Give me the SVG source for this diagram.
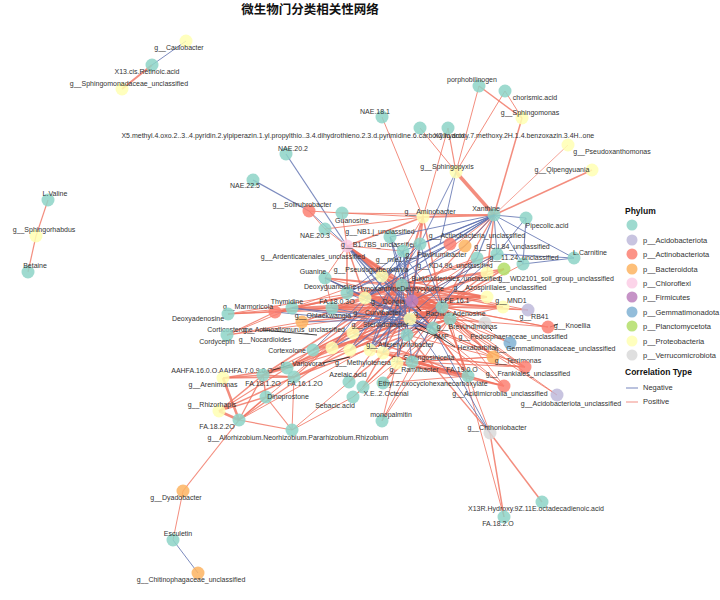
<svg xmlns="http://www.w3.org/2000/svg" width="720" height="600" viewBox="0 0 720 600">
<style>
.p{stroke:#F0705E;stroke-opacity:0.8;fill:none}
.n{stroke:#5B6EAE;stroke-opacity:0.8;fill:none}
.k{stroke:#111;stroke-width:0.8}
.T{fill:#8DD3C7}.Y{fill:#FFFFB3}.R{fill:#FB8072}.O{fill:#FDB462}.Pk{fill:#FCCDE5}.Pu{fill:#BC80BD}.B{fill:#80B1D3}.G{fill:#B3DE69}.L{fill:#BEBADA}.Gr{fill:#D9D9D9}
circle{fill-opacity:0.85}
text{font-family:"Liberation Sans",Arial,sans-serif;font-size:7px;fill:#333;text-anchor:middle}
.lg{text-anchor:start;font-size:7.5px}
.lh{text-anchor:start;font-size:8.5px;font-weight:bold;fill:#111}
.title{font-family:"Noto Sans CJK SC","Liberation Sans",sans-serif;font-size:12.5px;font-weight:bold;fill:#111}
</style>
<rect width="720" height="600" fill="#fff"/>
<text class="title" x="310" y="14">微生物门分类相关性网络</text>
<g id="connectors">
<line class="n" stroke-width="1" x1="186" y1="41" x2="152" y2="65"/>
<line class="p" stroke-width="2" x1="152" y1="65" x2="122" y2="89"/>
<line class="p" stroke-width="1.2" x1="48" y1="200" x2="36" y2="236"/>
<line class="p" stroke-width="1.2" x1="36" y1="236" x2="28" y2="272"/>
<line class="p" stroke-width="1.2" x1="183" y1="491" x2="239" y2="420"/>
<line class="p" stroke-width="1" x1="183" y1="491" x2="173" y2="540"/>
<line class="n" stroke-width="1" x1="173" y1="540" x2="198" y2="573"/>
<line class="p" stroke-width="1.5" x1="479" y1="86" x2="522" y2="118"/>
<line class="p" stroke-width="1" x1="479" y1="86" x2="456" y2="172"/>
<line class="p" stroke-width="1" x1="505" y1="91" x2="522" y2="118"/>
<line class="p" stroke-width="1" x1="505" y1="91" x2="456" y2="172"/>
<line class="p" stroke-width="1.5" x1="522" y1="118" x2="494" y2="215"/>
<line class="p" stroke-width="1" x1="420" y1="128" x2="456" y2="172"/>
<line class="p" stroke-width="1.2" x1="448" y1="128" x2="456" y2="172"/>
<line class="p" stroke-width="1" x1="448" y1="128" x2="423" y2="217"/>
<line class="p" stroke-width="1" x1="382" y1="117" x2="423" y2="217"/>
<line class="p" stroke-width="3.5" x1="456" y1="172" x2="494" y2="215"/>
<line class="p" stroke-width="0.8" x1="568" y1="145" x2="494" y2="215"/>
<line class="p" stroke-width="1.5" x1="592" y1="170" x2="494" y2="215"/>
<line class="n" stroke-width="1.2" x1="286" y1="154" x2="347" y2="246"/>
<line class="n" stroke-width="1.2" x1="253" y1="180" x2="309" y2="211"/>
<line class="n" stroke-width="1" x1="309" y1="211" x2="347" y2="246"/>
<line class="p" stroke-width="1" x1="309" y1="211" x2="342" y2="213"/>
<line class="p" stroke-width="1" x1="309" y1="211" x2="325" y2="229"/>
<line class="p" stroke-width="1" x1="342" y1="213" x2="494" y2="215"/>
<line class="p" stroke-width="1" x1="342" y1="213" x2="347" y2="246"/>
<line class="p" stroke-width="1" x1="325" y1="229" x2="347" y2="246"/>
<line class="p" stroke-width="3" x1="347" y1="246" x2="402" y2="285"/>
<line class="p" stroke-width="2.5" x1="347" y1="246" x2="412" y2="301"/>
<line class="p" stroke-width="2" x1="347" y1="246" x2="382" y2="276"/>
<line class="p" stroke-width="1.5" x1="347" y1="246" x2="365" y2="298"/>
<line class="p" stroke-width="1" x1="347" y1="246" x2="403" y2="251"/>
<line class="p" stroke-width="1" x1="347" y1="246" x2="325" y2="278"/>
<line class="p" stroke-width="1.5" x1="347" y1="246" x2="347" y2="293"/>
<line class="p" stroke-width="2" x1="347" y1="246" x2="442" y2="307"/>
<line class="p" stroke-width="1.5" x1="347" y1="246" x2="450" y2="319"/>
<line class="p" stroke-width="2" x1="423" y1="217" x2="402" y2="285"/>
<line class="p" stroke-width="2" x1="423" y1="217" x2="412" y2="301"/>
<line class="p" stroke-width="1.5" x1="423" y1="217" x2="442" y2="307"/>
<line class="p" stroke-width="1" x1="423" y1="217" x2="403" y2="251"/>
<line class="p" stroke-width="1" x1="423" y1="217" x2="342" y2="213"/>
<line class="p" stroke-width="1" x1="423" y1="217" x2="325" y2="229"/>
<line class="p" stroke-width="2" x1="423" y1="217" x2="494" y2="215"/>
<line class="p" stroke-width="1.5" x1="423" y1="217" x2="347" y2="246"/>
<line class="p" stroke-width="1.2" x1="494" y1="215" x2="442" y2="307"/>
<line class="p" stroke-width="1.5" x1="494" y1="215" x2="487" y2="273"/>
<line class="p" stroke-width="1" x1="494" y1="215" x2="402" y2="285"/>
<line class="p" stroke-width="1.2" x1="494" y1="215" x2="412" y2="301"/>
<line class="p" stroke-width="1.5" x1="325" y1="278" x2="402" y2="285"/>
<line class="p" stroke-width="1" x1="325" y1="278" x2="442" y2="307"/>
<line class="p" stroke-width="1" x1="325" y1="278" x2="365" y2="298"/>
<line class="p" stroke-width="1" x1="325" y1="278" x2="332" y2="308"/>
<line class="p" stroke-width="1" x1="325" y1="278" x2="487" y2="297"/>
<line class="p" stroke-width="2" x1="347" y1="293" x2="412" y2="301"/>
<line class="p" stroke-width="1.5" x1="347" y1="293" x2="442" y2="307"/>
<line class="p" stroke-width="1.5" x1="347" y1="293" x2="450" y2="319"/>
<line class="p" stroke-width="1.5" x1="347" y1="293" x2="487" y2="297"/>
<line class="p" stroke-width="2" x1="365" y1="298" x2="442" y2="307"/>
<line class="p" stroke-width="1.5" x1="365" y1="298" x2="450" y2="319"/>
<line class="p" stroke-width="1.5" x1="365" y1="298" x2="487" y2="297"/>
<line class="p" stroke-width="1" x1="365" y1="298" x2="503" y2="307"/>
<line class="p" stroke-width="2" x1="382" y1="276" x2="442" y2="307"/>
<line class="p" stroke-width="1.5" x1="382" y1="276" x2="450" y2="319"/>
<line class="p" stroke-width="1.5" x1="382" y1="276" x2="410" y2="319"/>
<line class="p" stroke-width="1.5" x1="382" y1="276" x2="487" y2="297"/>
<line class="p" stroke-width="2.5" x1="402" y1="285" x2="442" y2="307"/>
<line class="p" stroke-width="2" x1="402" y1="285" x2="450" y2="319"/>
<line class="p" stroke-width="1.5" x1="402" y1="285" x2="433" y2="328"/>
<line class="p" stroke-width="1.5" x1="402" y1="285" x2="487" y2="273"/>
<line class="p" stroke-width="2" x1="402" y1="285" x2="487" y2="297"/>
<line class="p" stroke-width="1.5" x1="402" y1="285" x2="503" y2="307"/>
<line class="p" stroke-width="1.5" x1="402" y1="285" x2="504" y2="269"/>
<line class="p" stroke-width="1" x1="402" y1="285" x2="477" y2="258"/>
<line class="p" stroke-width="1.5" x1="402" y1="285" x2="497" y2="254"/>
<line class="p" stroke-width="2" x1="412" y1="301" x2="442" y2="307"/>
<line class="p" stroke-width="2" x1="412" y1="301" x2="450" y2="319"/>
<line class="p" stroke-width="2" x1="412" y1="301" x2="487" y2="297"/>
<line class="p" stroke-width="1.5" x1="412" y1="301" x2="503" y2="307"/>
<line class="p" stroke-width="1.2" x1="412" y1="301" x2="528" y2="310"/>
<line class="p" stroke-width="1" x1="412" y1="301" x2="548" y2="327"/>
<line class="p" stroke-width="1" x1="412" y1="301" x2="497" y2="254"/>
<line class="p" stroke-width="1" x1="412" y1="301" x2="477" y2="258"/>
<line class="p" stroke-width="1.5" x1="412" y1="301" x2="504" y2="269"/>
<line class="p" stroke-width="1.5" x1="412" y1="301" x2="487" y2="273"/>
<line class="p" stroke-width="1.5" x1="442" y1="307" x2="487" y2="297"/>
<line class="p" stroke-width="1.5" x1="442" y1="307" x2="503" y2="307"/>
<line class="p" stroke-width="1" x1="442" y1="307" x2="528" y2="310"/>
<line class="p" stroke-width="1.2" x1="442" y1="307" x2="548" y2="327"/>
<line class="p" stroke-width="1.5" x1="442" y1="307" x2="504" y2="269"/>
<line class="p" stroke-width="1.5" x1="442" y1="307" x2="487" y2="273"/>
<line class="p" stroke-width="1" x1="442" y1="307" x2="523" y2="264"/>
<line class="p" stroke-width="1.2" x1="450" y1="319" x2="503" y2="307"/>
<line class="p" stroke-width="1" x1="450" y1="319" x2="485" y2="323"/>
<line class="p" stroke-width="1" x1="450" y1="319" x2="510" y2="343"/>
<line class="p" stroke-width="1.2" x1="450" y1="319" x2="493" y2="357"/>
<line class="p" stroke-width="1.2" x1="450" y1="319" x2="525" y2="367"/>
<line class="p" stroke-width="1" x1="450" y1="319" x2="557" y2="395"/>
<line class="p" stroke-width="1" x1="410" y1="319" x2="493" y2="357"/>
<line class="p" stroke-width="1" x1="410" y1="319" x2="525" y2="367"/>
<line class="p" stroke-width="1" x1="410" y1="319" x2="504" y2="386"/>
<line class="p" stroke-width="1" x1="433" y1="328" x2="504" y2="386"/>
<line class="p" stroke-width="1" x1="433" y1="328" x2="525" y2="367"/>
<line class="p" stroke-width="1" x1="407" y1="335" x2="493" y2="357"/>
<line class="p" stroke-width="2" x1="292" y1="308" x2="402" y2="285"/>
<line class="p" stroke-width="1.5" x1="292" y1="308" x2="412" y2="301"/>
<line class="p" stroke-width="1.5" x1="292" y1="308" x2="442" y2="307"/>
<line class="p" stroke-width="1" x1="292" y1="308" x2="382" y2="276"/>
<line class="p" stroke-width="1.5" x1="292" y1="308" x2="450" y2="319"/>
<line class="p" stroke-width="2" x1="332" y1="308" x2="402" y2="285"/>
<line class="p" stroke-width="1.5" x1="332" y1="308" x2="412" y2="301"/>
<line class="p" stroke-width="1.5" x1="332" y1="308" x2="450" y2="319"/>
<line class="p" stroke-width="2" x1="332" y1="308" x2="442" y2="307"/>
<line class="p" stroke-width="1.5" x1="302" y1="322" x2="402" y2="285"/>
<line class="p" stroke-width="1.5" x1="302" y1="322" x2="442" y2="307"/>
<line class="p" stroke-width="1.2" x1="275" y1="312" x2="228" y2="314"/>
<line class="p" stroke-width="1.2" x1="275" y1="312" x2="227" y2="335"/>
<line class="p" stroke-width="1.5" x1="275" y1="312" x2="292" y2="308"/>
<line class="p" stroke-width="1.5" x1="275" y1="312" x2="402" y2="285"/>
<line class="p" stroke-width="1.2" x1="275" y1="312" x2="412" y2="301"/>
<line class="p" stroke-width="1" x1="275" y1="312" x2="442" y2="307"/>
<line class="p" stroke-width="1" x1="228" y1="314" x2="292" y2="308"/>
<line class="p" stroke-width="1" x1="228" y1="314" x2="332" y2="308"/>
<line class="p" stroke-width="1" x1="228" y1="314" x2="402" y2="285"/>
<line class="p" stroke-width="1" x1="227" y1="335" x2="292" y2="308"/>
<line class="p" stroke-width="1" x1="227" y1="335" x2="302" y2="322"/>
<line class="p" stroke-width="1" x1="227" y1="335" x2="442" y2="307"/>
<line class="p" stroke-width="1.5" x1="313" y1="350" x2="442" y2="307"/>
<line class="p" stroke-width="1.5" x1="313" y1="350" x2="412" y2="301"/>
<line class="p" stroke-width="1" x1="313" y1="350" x2="450" y2="319"/>
<line class="p" stroke-width="1.5" x1="332" y1="348" x2="402" y2="285"/>
<line class="p" stroke-width="1.5" x1="332" y1="348" x2="442" y2="307"/>
<line class="p" stroke-width="1" x1="332" y1="348" x2="450" y2="319"/>
<line class="p" stroke-width="1.5" x1="350" y1="350" x2="442" y2="307"/>
<line class="p" stroke-width="1.2" x1="350" y1="350" x2="412" y2="301"/>
<line class="p" stroke-width="1.5" x1="350" y1="350" x2="402" y2="285"/>
<line class="p" stroke-width="1.5" x1="353" y1="333" x2="442" y2="307"/>
<line class="p" stroke-width="1.5" x1="353" y1="333" x2="402" y2="285"/>
<line class="p" stroke-width="1.5" x1="353" y1="333" x2="468" y2="376"/>
<line class="p" stroke-width="2" x1="370" y1="350" x2="468" y2="376"/>
<line class="p" stroke-width="2" x1="383" y1="353" x2="468" y2="376"/>
<line class="p" stroke-width="2.5" x1="397" y1="363" x2="468" y2="376"/>
<line class="p" stroke-width="2" x1="412" y1="362" x2="468" y2="376"/>
<line class="p" stroke-width="1.5" x1="383" y1="353" x2="504" y2="386"/>
<line class="p" stroke-width="1.5" x1="397" y1="363" x2="504" y2="386"/>
<line class="p" stroke-width="1" x1="370" y1="350" x2="504" y2="386"/>
<line class="p" stroke-width="1.2" x1="412" y1="362" x2="525" y2="367"/>
<line class="p" stroke-width="1" x1="412" y1="362" x2="493" y2="357"/>
<line class="p" stroke-width="1" x1="383" y1="353" x2="525" y2="367"/>
<line class="p" stroke-width="1" x1="370" y1="350" x2="525" y2="367"/>
<line class="p" stroke-width="1" x1="397" y1="363" x2="493" y2="357"/>
<line class="p" stroke-width="1.5" x1="287" y1="368" x2="402" y2="285"/>
<line class="p" stroke-width="1.5" x1="287" y1="368" x2="412" y2="301"/>
<line class="p" stroke-width="1.5" x1="287" y1="368" x2="442" y2="307"/>
<line class="p" stroke-width="1.2" x1="287" y1="368" x2="450" y2="319"/>
<line class="p" stroke-width="1.5" x1="263" y1="375" x2="402" y2="285"/>
<line class="p" stroke-width="1.2" x1="263" y1="375" x2="412" y2="301"/>
<line class="p" stroke-width="1.5" x1="263" y1="375" x2="442" y2="307"/>
<line class="p" stroke-width="1.2" x1="294" y1="377" x2="402" y2="285"/>
<line class="p" stroke-width="1.5" x1="294" y1="377" x2="442" y2="307"/>
<line class="p" stroke-width="1.5" x1="294" y1="377" x2="450" y2="319"/>
<line class="p" stroke-width="1.5" x1="294" y1="377" x2="263" y2="375"/>
<line class="p" stroke-width="1.5" x1="287" y1="368" x2="263" y2="375"/>
<line class="p" stroke-width="2.5" x1="223" y1="378" x2="239" y2="420"/>
<line class="p" stroke-width="1.5" x1="223" y1="378" x2="263" y2="375"/>
<line class="p" stroke-width="1.5" x1="223" y1="378" x2="287" y2="368"/>
<line class="p" stroke-width="1.5" x1="223" y1="378" x2="294" y2="377"/>
<line class="p" stroke-width="2.5" x1="219" y1="411" x2="239" y2="420"/>
<line class="p" stroke-width="1.5" x1="219" y1="411" x2="263" y2="375"/>
<line class="p" stroke-width="1.2" x1="219" y1="411" x2="287" y2="368"/>
<line class="p" stroke-width="1.5" x1="219" y1="411" x2="266" y2="397"/>
<line class="p" stroke-width="1.5" x1="219" y1="411" x2="294" y2="377"/>
<line class="p" stroke-width="1.5" x1="266" y1="397" x2="239" y2="420"/>
<line class="p" stroke-width="1.5" x1="266" y1="397" x2="263" y2="375"/>
<line class="p" stroke-width="1.2" x1="266" y1="397" x2="292" y2="430"/>
<line class="p" stroke-width="1.2" x1="239" y1="420" x2="292" y2="430"/>
<line class="p" stroke-width="1.2" x1="239" y1="420" x2="263" y2="375"/>
<line class="p" stroke-width="1" x1="239" y1="420" x2="402" y2="285"/>
<line class="p" stroke-width="1" x1="239" y1="420" x2="442" y2="307"/>
<line class="p" stroke-width="1.2" x1="239" y1="420" x2="412" y2="301"/>
<line class="p" stroke-width="1" x1="292" y1="430" x2="349" y2="382"/>
<line class="p" stroke-width="1" x1="292" y1="430" x2="353" y2="397"/>
<line class="p" stroke-width="1" x1="292" y1="430" x2="294" y2="377"/>
<line class="p" stroke-width="1.5" x1="349" y1="382" x2="442" y2="307"/>
<line class="p" stroke-width="1.2" x1="349" y1="382" x2="412" y2="301"/>
<line class="p" stroke-width="1" x1="353" y1="397" x2="442" y2="307"/>
<line class="p" stroke-width="1" x1="353" y1="397" x2="450" y2="319"/>
<line class="p" stroke-width="1.5" x1="363" y1="387" x2="442" y2="307"/>
<line class="p" stroke-width="1.5" x1="363" y1="387" x2="412" y2="301"/>
<line class="p" stroke-width="1.2" x1="383" y1="383" x2="442" y2="307"/>
<line class="p" stroke-width="1.5" x1="383" y1="383" x2="450" y2="319"/>
<line class="p" stroke-width="1" x1="383" y1="383" x2="468" y2="376"/>
<line class="p" stroke-width="1" x1="382" y1="421" x2="442" y2="307"/>
<line class="p" stroke-width="1" x1="382" y1="421" x2="450" y2="319"/>
<line class="p" stroke-width="1" x1="382" y1="421" x2="412" y2="301"/>
<line class="p" stroke-width="1.5" x1="468" y1="376" x2="442" y2="307"/>
<line class="p" stroke-width="1.5" x1="468" y1="376" x2="412" y2="301"/>
<line class="p" stroke-width="1" x1="468" y1="376" x2="402" y2="285"/>
<line class="p" stroke-width="1" x1="504" y1="386" x2="442" y2="307"/>
<line class="p" stroke-width="1" x1="525" y1="367" x2="442" y2="307"/>
<line class="p" stroke-width="1.2" x1="493" y1="357" x2="442" y2="307"/>
<line class="p" stroke-width="1" x1="548" y1="327" x2="450" y2="319"/>
<line class="p" stroke-width="1" x1="528" y1="310" x2="402" y2="285"/>
<line class="p" stroke-width="1" x1="485" y1="323" x2="412" y2="301"/>
<line class="p" stroke-width="1" x1="510" y1="343" x2="442" y2="307"/>
<line class="p" stroke-width="1.5" x1="490" y1="433" x2="542" y2="502"/>
<line class="p" stroke-width="1.5" x1="490" y1="433" x2="504" y2="517"/>
<line class="p" stroke-width="1" x1="504" y1="517" x2="450" y2="319"/>
<line class="p" stroke-width="1.2" x1="490" y1="433" x2="407" y2="335"/>
<line class="p" stroke-width="1" x1="490" y1="433" x2="442" y2="307"/>
<line class="p" stroke-width="1" x1="557" y1="395" x2="412" y2="301"/>
<line class="n" stroke-width="1" x1="494" y1="215" x2="526" y2="218"/>
<line class="n" stroke-width="1" x1="494" y1="215" x2="574" y2="258"/>
<line class="n" stroke-width="1" x1="494" y1="215" x2="523" y2="264"/>
<line class="n" stroke-width="1" x1="494" y1="215" x2="497" y2="254"/>
<line class="n" stroke-width="1.2" x1="494" y1="215" x2="477" y2="258"/>
<line class="n" stroke-width="1.2" x1="494" y1="215" x2="450" y2="244"/>
<line class="n" stroke-width="1.2" x1="494" y1="215" x2="420" y2="244"/>
<line class="n" stroke-width="1.2" x1="494" y1="215" x2="403" y2="251"/>
<line class="n" stroke-width="1" x1="494" y1="215" x2="390" y2="237"/>
<line class="n" stroke-width="1" x1="494" y1="215" x2="465" y2="246"/>
<line class="n" stroke-width="1" x1="494" y1="215" x2="365" y2="298"/>
<line class="n" stroke-width="1" x1="494" y1="215" x2="347" y2="293"/>
<line class="n" stroke-width="1" x1="494" y1="215" x2="382" y2="276"/>
<line class="n" stroke-width="1" x1="526" y1="218" x2="523" y2="264"/>
<line class="n" stroke-width="1" x1="526" y1="218" x2="497" y2="254"/>
<line class="n" stroke-width="1" x1="574" y1="258" x2="523" y2="264"/>
<line class="n" stroke-width="1" x1="574" y1="258" x2="497" y2="254"/>
<line class="n" stroke-width="1" x1="456" y1="172" x2="420" y2="244"/>
<line class="n" stroke-width="1" x1="456" y1="172" x2="440" y2="244"/>
<line class="n" stroke-width="1.5" x1="403" y1="251" x2="412" y2="301"/>
<line class="n" stroke-width="1.5" x1="420" y1="244" x2="412" y2="301"/>
<line class="n" stroke-width="1" x1="420" y1="244" x2="442" y2="307"/>
<line class="n" stroke-width="1" x1="420" y1="244" x2="365" y2="298"/>
<line class="n" stroke-width="1.2" x1="390" y1="237" x2="412" y2="301"/>
<line class="n" stroke-width="1" x1="390" y1="237" x2="402" y2="285"/>
<line class="n" stroke-width="1" x1="390" y1="237" x2="442" y2="307"/>
<line class="n" stroke-width="1" x1="403" y1="251" x2="347" y2="293"/>
<line class="n" stroke-width="1" x1="403" y1="251" x2="410" y2="319"/>
<line class="n" stroke-width="1" x1="477" y1="258" x2="442" y2="307"/>
<line class="n" stroke-width="1" x1="497" y1="254" x2="412" y2="301"/>
<line class="n" stroke-width="1" x1="450" y1="244" x2="347" y2="293"/>
<line class="n" stroke-width="1" x1="450" y1="244" x2="365" y2="298"/>
<line class="n" stroke-width="1" x1="465" y1="246" x2="365" y2="298"/>
<line class="n" stroke-width="1.5" x1="347" y1="246" x2="433" y2="328"/>
<line class="n" stroke-width="1.5" x1="347" y1="246" x2="410" y2="319"/>
<line class="n" stroke-width="1" x1="347" y1="246" x2="407" y2="335"/>
<line class="n" stroke-width="1.2" x1="325" y1="278" x2="433" y2="328"/>
<line class="n" stroke-width="1.2" x1="325" y1="278" x2="410" y2="319"/>
<line class="n" stroke-width="1" x1="347" y1="293" x2="433" y2="328"/>
<line class="n" stroke-width="1" x1="382" y1="276" x2="433" y2="328"/>
<line class="n" stroke-width="1" x1="365" y1="298" x2="407" y2="335"/>
<line class="n" stroke-width="1.5" x1="402" y1="285" x2="370" y2="350"/>
<line class="n" stroke-width="1.5" x1="402" y1="285" x2="383" y2="353"/>
<line class="n" stroke-width="1.2" x1="402" y1="285" x2="397" y2="363"/>
<line class="n" stroke-width="1.2" x1="402" y1="285" x2="412" y2="362"/>
<line class="n" stroke-width="1.5" x1="412" y1="301" x2="370" y2="350"/>
<line class="n" stroke-width="1.2" x1="412" y1="301" x2="350" y2="350"/>
<line class="n" stroke-width="1.2" x1="412" y1="301" x2="332" y2="348"/>
<line class="n" stroke-width="1" x1="412" y1="301" x2="397" y2="363"/>
<line class="n" stroke-width="1" x1="442" y1="307" x2="383" y2="353"/>
<line class="n" stroke-width="1" x1="442" y1="307" x2="412" y2="362"/>
<line class="n" stroke-width="1" x1="403" y1="251" x2="370" y2="350"/>
<line class="n" stroke-width="1" x1="420" y1="244" x2="350" y2="350"/>
<line class="n" stroke-width="1" x1="292" y1="308" x2="433" y2="328"/>
<line class="n" stroke-width="1" x1="292" y1="308" x2="410" y2="319"/>
<line class="n" stroke-width="1" x1="332" y1="308" x2="433" y2="328"/>
<line class="n" stroke-width="1" x1="275" y1="312" x2="433" y2="328"/>
<line class="n" stroke-width="1" x1="302" y1="322" x2="410" y2="319"/>
<line class="n" stroke-width="1" x1="313" y1="350" x2="420" y2="244"/>
<line class="n" stroke-width="1" x1="332" y1="348" x2="403" y2="251"/>
<line class="n" stroke-width="1" x1="490" y1="433" x2="433" y2="328"/>
<line class="n" stroke-width="1" x1="490" y1="433" x2="410" y2="319"/>
<line class="n" stroke-width="1" x1="477" y1="258" x2="370" y2="350"/>
<line class="n" stroke-width="1" x1="497" y1="254" x2="383" y2="353"/>
<line class="k" x1="412" y1="301" x2="421" y2="311"/>
<line class="k" x1="412" y1="320" x2="455" y2="347"/>
<line class="k" x1="415" y1="328" x2="436" y2="336"/>
<line class="k" x1="483" y1="322" x2="492" y2="331"/>
<line class="k" x1="550" y1="327" x2="558" y2="324"/>
<line class="k" x1="262" y1="330" x2="317" y2="335"/>
<line class="k" x1="323" y1="363" x2="350" y2="357"/>
<line class="k" x1="273" y1="370" x2="290" y2="365"/>
</g>
<g id="nodes">
<g id="n_caulo"><circle class="Y" cx="186" cy="41" r="6.5"/><text x="179" y="50">g__Caulobacter</text></g>
<g id="n_x13"><circle class="T" cx="152" cy="65" r="6.5"/><text x="147" y="74">X13.cis.Retinoic.acid</text></g>
<g id="n_sphmon"><circle class="Y" cx="122" cy="89" r="6.5"/><text x="129" y="86">g__Sphingomonadaceae_unclassified</text></g>
<g id="n_valine"><circle class="T" cx="48" cy="200" r="6.5"/><text x="55" y="196">L.Valine</text></g>
<g id="n_sphrh"><circle class="Y" cx="36" cy="236" r="6.5"/><text x="44" y="232">g__Sphingorhabdus</text></g>
<g id="n_betaine"><circle class="T" cx="28" cy="272" r="6.5"/><text x="35" y="268">Betaine</text></g>
<g id="n_nae181"><circle class="T" cx="382" cy="117" r="6.5"/><text x="375" y="114">NAE.18.1</text></g>
<g id="n_x5"><circle class="T" cx="420" cy="128" r="6.5"/><text x="293" y="138">X5.methyl.4.oxo.2..3..4.pyridin.2.ylpiperazin.1.yl.propylthio..3.4.dihydrothieno.2.3.d.pyrimidine.6.carboxylic.acid</text></g>
<g id="n_x2"><circle class="T" cx="448" cy="128" r="6.5"/><text x="514" y="138">X2.hydroxy.7.methoxy.2H.1.4.benzoxazin.3.4H..one</text></g>
<g id="n_porph"><circle class="T" cx="479" cy="86" r="6.5"/><text x="472" y="82">porphobilinogen</text></g>
<g id="n_choris"><circle class="T" cx="505" cy="91" r="6.5"/><text x="535" y="100">chorismic.acid</text></g>
<g id="n_sphingomonas"><circle class="Y" cx="522" cy="118" r="6.5"/><text x="530" y="115">g__Sphingomonas</text></g>
<g id="n_pseudox"><circle class="Y" cx="568" cy="145" r="6.5"/><text x="612" y="154">g__Pseudoxanthomonas</text></g>
<g id="n_qipeng"><circle class="Y" cx="592" cy="170" r="6.5"/><text x="562" y="172">g__Qipengyuania</text></g>
<g id="n_spx"><circle class="Y" cx="456" cy="172" r="6.5"/><text x="447" y="169">g__Sphingopyxis</text></g>
<g id="n_nae202"><circle class="T" cx="286" cy="154" r="6.5"/><text x="293" y="151">NAE.20.2</text></g>
<g id="n_nae225"><circle class="T" cx="253" cy="180" r="6.5"/><text x="245" y="188">NAE.22.5</text></g>
<g id="n_xan"><circle class="T" cx="494" cy="215" r="6.5"/><text x="486" y="211">Xanthine</text></g>
<g id="n_pip"><circle class="T" cx="526" cy="218" r="6.5"/><text x="547" y="228">Pipecolic.acid</text></g>
<g id="n_lcarn"><circle class="T" cx="574" cy="258" r="6.5"/><text x="590" y="255">L.Carnitine</text></g>
<g id="n_amino"><circle class="Y" cx="423" cy="217" r="6.5"/><text x="430" y="214">g__Aminobacter</text></g>
<g id="n_soliru"><circle class="R" cx="309" cy="211" r="6.5"/><text x="302" y="207">g__Solirubrobacter</text></g>
<g id="n_guanos"><circle class="T" cx="342" cy="213" r="6.5"/><text x="352" y="223">Guanosine</text></g>
<g id="n_nae203"><circle class="T" cx="325" cy="229" r="6.5"/><text x="315" y="238">NAE.20.3</text></g>
<g id="n_nb1j"><circle class="T" cx="390" cy="237" r="6.5"/><text x="380" y="234">g__NB1.j_unclassified</text></g>
<g id="n_b17"><circle class="Pk" cx="347" cy="246" r="6.5"/><text x="379" y="247">g__B1.7BS_unclassified</text></g>
<g id="n_ardent"><text x="313" y="259">g__Ardenticatenales_unclassified</text></g>
<g id="n_c1"><circle class="T" cx="403" cy="251" r="6.5"/><text x="392" y="262">g__mle1.7</text></g>
<g id="n_c2"><circle class="T" cx="420" cy="244" r="6.5"/></g>
<g id="n_actino"><circle class="R" cx="450" cy="244" r="6.5"/><text x="477" y="238">g__Actinobacteria_unclassified</text></g>
<g id="n_flavi"><circle class="O" cx="465" cy="246" r="6.5"/><text x="436" y="257">g__Flavihumibacter</text></g>
<g id="n_c3"><circle class="T" cx="477" cy="258" r="6.5"/><text x="455" y="268">g__KD4.96_unclassified</text></g>
<g id="n_c4"><circle class="T" cx="497" cy="254" r="6.5"/><text x="512" y="249">g__SC.I.84_unclassified</text></g>
<g id="n_1124"><circle class="T" cx="523" cy="264" r="6.5"/><text x="524" y="260">g__11.24_unclassified</text></g>
<g id="n_wd"><circle class="G" cx="504" cy="269" r="6.5"/><text x="556" y="281">g__WD2101_soil_group_unclassified</text></g>
<g id="n_y1"><circle class="Y" cx="487" cy="273" r="6.5"/><text x="450" y="281">g__Burkholderiales_unclassified</text></g>
<g id="n_y2"><circle class="Y" cx="487" cy="297" r="6.5"/><text x="500" y="290">g__Azospirillales_unclassified</text></g>
<g id="n_mnd1"><circle class="Y" cx="503" cy="307" r="6.5"/><text x="511" y="303">g__MND1</text></g>
<g id="n_rb41"><circle class="L" cx="528" cy="310" r="6.5"/><text x="534" y="319">g__RB41</text></g>
<g id="n_knoe"><circle class="R" cx="548" cy="327" r="6.5"/><text x="572" y="328">g__Knoellia</text></g>
<g id="n_pedos"><circle class="Gr" cx="485" cy="323" r="6.5"/><text x="513" y="339">g__Pedosphaeraceae_unclassified</text></g>
<g id="n_gemm"><circle class="B" cx="510" cy="343" r="6.5"/><text x="555" y="351">g__Gemmatimonadaceae_unclassified</text></g>
<g id="n_terri"><circle class="O" cx="493" cy="357" r="6.5"/><text x="518" y="363">g__Terrimonas</text></g>
<g id="n_frank"><circle class="R" cx="525" cy="367" r="6.5"/><text x="528" y="376">g__Frankiales_unclassified</text></g>
<g id="n_fa190"><circle class="T" cx="468" cy="376" r="6.5"/><text x="462" y="372">FA.19.0.O</text></g>
<g id="n_acidim"><circle class="R" cx="504" cy="386" r="6.5"/><text x="500" y="396">g__Acidimicrobiia_unclassified</text></g>
<g id="n_acidob"><circle class="L" cx="557" cy="395" r="6.5"/><text x="571" y="406">g__Acidobacteriota_unclassified</text></g>
<g id="n_chthon"><circle class="Gr" cx="490" cy="433" r="6.5"/><text x="497" y="430">g__Chthoniobacter</text></g>
<g id="n_x13r"><circle class="T" cx="542" cy="502" r="6.5"/><text x="536" y="511">X13R.Hydroxy.9Z.11E.octadecadienoic.acid</text></g>
<g id="n_fa182o"><circle class="T" cx="504" cy="517" r="6.5"/><text x="498" y="526">FA.18.2.O</text></g>
<g id="n_guanine"><circle class="T" cx="325" cy="278" r="6.5"/><text x="313" y="274">Guanine</text></g>
<g id="n_pseudo"><circle class="Y" cx="382" cy="276" r="6.5"/><text x="371" y="272">g__Pseudogulbenkiania</text></g>
<g id="n_hypox"><circle class="T" cx="402" cy="285" r="6.5"/><text x="379" y="291">Hypoxanthine</text></g>
<g id="n_deoxyg"><circle class="T" cx="347" cy="293" r="6.5"/><text x="330" y="289">Deoxyguanosine</text></g>
<g id="n_deoxyc"><text x="422" y="291">Deoxycytidine</text></g>
<g id="n_dongia"><circle class="Y" cx="365" cy="298" r="6.5"/><text x="388" y="304">g__Dongia</text></g>
<g id="n_firm"><circle class="Pu" cx="412" cy="301" r="6.5"/><text x="432" y="316">g__Bacillus</text></g>
<g id="n_lpe"><circle class="T" cx="442" cy="307" r="6.5"/><text x="455" y="303">LPE.16.1</text></g>
<g id="n_adeno"><circle class="T" cx="450" cy="319" r="6.5"/><text x="469" y="316">Adenosine</text></g>
<g id="n_bacil"><circle class="Y" cx="410" cy="319" r="6.5"/><text x="377" y="315">g__Curvibacter</text></g>
<g id="n_amp"><circle class="T" cx="433" cy="328" r="6.5"/><text x="441" y="339">AMP</text></g>
<g id="n_brev"><text x="467" y="329">g__Brevundimonas</text></g>
<g id="n_hexa"><circle class="T" cx="407" cy="335" r="6.5"/><text x="477" y="350">Hexabarbital</text></g>
<g id="n_y8"><circle class="Y" cx="353" cy="333" r="6.5"/><text x="380" y="327">g__Steroidobacter</text></g>
<g id="n_y3"><circle class="Y" cx="370" cy="350" r="6.5"/><text x="400" y="347">g__Altererythrobacter</text></g>
<g id="n_y4"><circle class="Y" cx="383" cy="353" r="6.5"/><text x="423" y="360">g__Sphingosinicella</text></g>
<g id="n_y5"><circle class="Y" cx="350" cy="350" r="6.5"/><text x="363" y="365">g__Methylotenera</text></g>
<g id="n_t6"><circle class="T" cx="412" cy="362" r="6.5"/></g>
<g id="n_y6"><circle class="Y" cx="397" cy="363" r="6.5"/><text x="414" y="372">g__Ramlibacter</text></g>
<g id="n_marmo"><circle class="R" cx="275" cy="312" r="6.5"/><text x="248" y="309">g__Marmoricola</text></g>
<g id="n_deoxya"><circle class="T" cx="228" cy="314" r="6.5"/><text x="198" y="321">Deoxyadenosine</text></g>
<g id="n_thym"><circle class="T" cx="292" cy="308" r="6.5"/><text x="287" y="304">Thymidine</text></g>
<g id="n_fa1803"><circle class="T" cx="332" cy="308" r="6.5"/><text x="337" y="304">FA.18.0.3O</text></g>
<g id="n_or1"><circle class="O" cx="302" cy="322" r="6.5"/><text x="323" y="318">g__Ohtaekwangia</text></g>
<g id="n_cortic"><text x="230" y="332">Corticosterone</text><text x="294" y="332">g__Actinoallomurus_unclassified</text></g>
<g id="n_cordy"><circle class="T" cx="227" cy="335" r="6.5"/><text x="217" y="344">Cordycepin</text></g>
<g id="n_nocar"><text x="265" y="342">g__Nocardioides</text></g>
<g id="n_cortex"><circle class="T" cx="313" cy="350" r="6.5"/><text x="287" y="353">Cortexolone</text></g>
<g id="n_y7"><circle class="Y" cx="332" cy="348" r="6.5"/><text x="303" y="366">g__Variovorax</text></g>
<g id="n_aahfa"><circle class="T" cx="287" cy="368" r="6.5"/><text x="222" y="373">AAHFA.16.0.O.AAHFA.7.0.9.0.O</text></g>
<g id="n_arenim"><circle class="Y" cx="223" cy="378" r="6.5"/><text x="213" y="387">g__Arenimonas</text></g>
<g id="n_fa1812"><circle class="T" cx="263" cy="375" r="6.5"/><text x="263" y="386">FA.18.1.2O</text></g>
<g id="n_fa1612"><circle class="T" cx="294" cy="377" r="6.5"/><text x="305" y="386">FA.16.1.2O</text></g>
<g id="n_dino"><circle class="T" cx="266" cy="397" r="6.5"/><text x="288" y="399">Dinoprostone</text></g>
<g id="n_rhizo"><circle class="Y" cx="219" cy="411" r="6.5"/><text x="212" y="407">g__Rhizorhapis</text></g>
<g id="n_fa1822"><circle class="T" cx="239" cy="420" r="6.5"/><text x="217" y="429">FA.18.2.2O</text></g>
<g id="n_allorh"><circle class="T" cx="292" cy="430" r="6.5"/><text x="298" y="440">g__Allorhizobium.Neorhizobium.Pararhizobium.Rhizobium</text></g>
<g id="n_azel"><circle class="T" cx="349" cy="382" r="6.5"/><text x="348" y="377">Azelaic.acid</text></g>
<g id="n_sebac"><circle class="T" cx="353" cy="397" r="6.5"/><text x="335" y="408">Sebacic.acid</text></g>
<g id="n_octen"><circle class="T" cx="363" cy="387" r="6.5"/><text x="386" y="396">X.E..2.Octenal</text></g>
<g id="n_ethyl"><circle class="T" cx="383" cy="383" r="6.5"/><text x="433" y="386">Ethyl.2.oxocyclohexanecarboxylate</text></g>
<g id="n_monop"><circle class="T" cx="382" cy="421" r="6.5"/><text x="391" y="417">monopalmitin</text></g>
<g id="n_dyado"><circle class="O" cx="183" cy="491" r="6.5"/><text x="176" y="500">g__Dyadobacter</text></g>
<g id="n_escul"><circle class="T" cx="173" cy="540" r="6.5"/><text x="178" y="536">Esculetin</text></g>
<g id="n_chitino"><circle class="O" cx="198" cy="573" r="6.5"/><text x="191" y="582">g__Chitinophagaceae_unclassified</text></g>
</g>
<g id="legend">
<text class="lh" x="625" y="214">Phylum</text>
<circle class="T" cx="632" cy="225" r="5.5"/>
<circle class="L" cx="632" cy="240" r="5.5"/><text class="lg" x="643" y="243">p__Acidobacteriota</text>
<circle class="R" cx="632" cy="254" r="5.5"/><text class="lg" x="643" y="257">p__Actinobacteriota</text>
<circle class="O" cx="632" cy="269" r="5.5"/><text class="lg" x="643" y="272">p__Bacteroidota</text>
<circle class="Pk" cx="632" cy="283" r="5.5"/><text class="lg" x="643" y="286">p__Chloroflexi</text>
<circle class="Pu" cx="632" cy="297" r="5.5"/><text class="lg" x="643" y="300">p__Firmicutes</text>
<circle class="B" cx="632" cy="312" r="5.5"/><text class="lg" x="643" y="315">p__Gemmatimonadota</text>
<circle class="G" cx="632" cy="326" r="5.5"/><text class="lg" x="643" y="329">p__Planctomycetota</text>
<circle class="Y" cx="632" cy="341" r="5.5"/><text class="lg" x="643" y="344">p__Proteobacteria</text>
<circle class="Gr" cx="632" cy="355" r="5.5"/><text class="lg" x="643" y="358">p__Verrucomicrobiota</text>
<text class="lh" x="625" y="375">Correlation Type</text>
<line x1="626" y1="388" x2="638" y2="388" stroke="#8C9AC8" stroke-width="1.2"/><text class="lg" x="643" y="390">Negative</text>
<line x1="626" y1="402" x2="638" y2="402" stroke="#F4A29A" stroke-width="1.2"/><text class="lg" x="643" y="404">Positive</text>
</g>
</svg>
